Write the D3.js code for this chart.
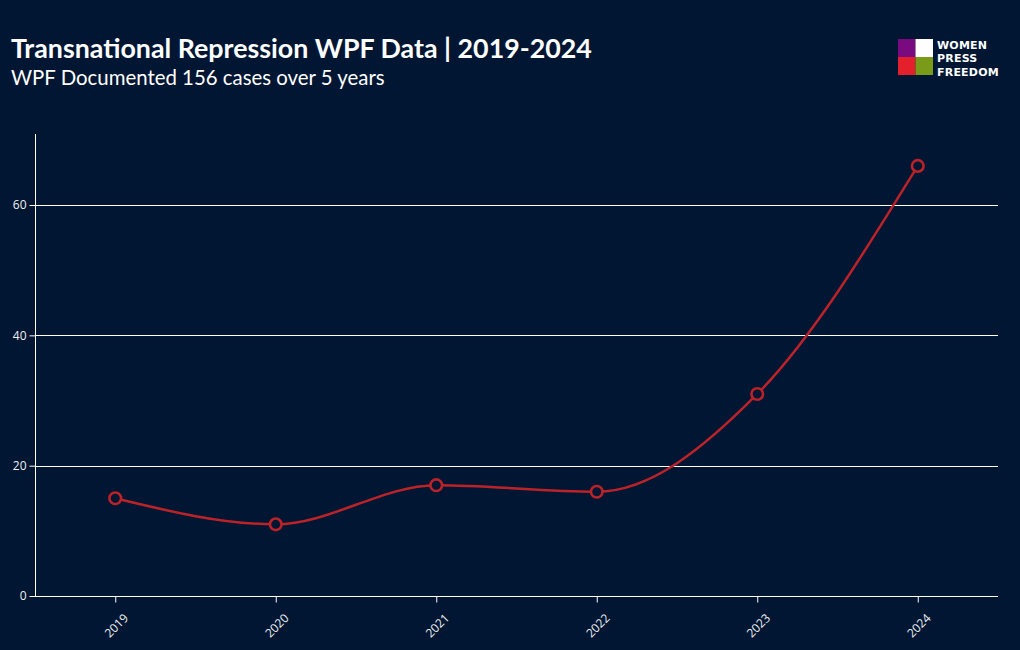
<!DOCTYPE html>
<html>
<head>
<meta charset="utf-8">
<script src="https://cdn.jsdelivr.net/npm/d3@7"></script>
<style>
  html, body { margin: 0; padding: 0; background: #011633; }
  svg { display: block; }
</style>
</head>
<body>
<svg id="chart" width="1020" height="650"></svg>
<script>
const years = ["2019", "2020", "2021", "2022", "2023", "2024"];
const cases = [15, 11, 17, 16, 31, 66];
const yTicks = [0, 20, 40, 60];
const titleText = "Transnational Repression WPF Data | 2019-2024";
const subtitleText = "WPF Documented 156 cases over 5 years";
const logoLines = ["WOMEN", "PRESS", "FREEDOM"];

const bg = "#011633";
const lineColor = "#bb2328";
const svg = d3.select("#chart");
svg.append("rect").attr("width", 1020).attr("height", 650).attr("fill", bg);

const margin = { left: 35, right: 22, top: 134, bottom: 54 };
const W = 1020, H = 650;

const x = d3.scalePoint().domain(years).range([margin.left, W - margin.right]).padding(0.5);
const y = d3.scaleLinear().domain([0, 70.9]).range([H - margin.bottom, margin.top]);

// gridlines
svg.append("g").selectAll("line").data(yTicks.filter(d => d > 0)).join("line")
  .attr("x1", margin.left).attr("x2", W - margin.right)
  .attr("y1", d => Math.round(y(d)) + 0.5).attr("y2", d => Math.round(y(d)) + 0.5)
  .attr("stroke", "#ffffff").attr("stroke-width", 1);

// y axis
const yAxis = svg.append("g").attr("transform", `translate(${margin.left + 0.5},0)`)
  .call(d3.axisLeft(y).tickValues(yTicks).tickSize(6).tickPadding(3).tickFormat(d3.format("d")));
yAxis.select(".domain").attr("stroke", "#ffffff").attr("d", `M0,${y(0)}V${margin.top}`);
yAxis.selectAll(".tick line").attr("stroke", "#ffffff");
yAxis.selectAll(".tick text").attr("fill", "#f0f0f0").attr("font-family", "'Open Sans', sans-serif").attr("font-size", 12);

// x axis
const xAxis = svg.append("g").attr("transform", `translate(0,${Math.round(y(0)) + 0.5})`)
  .call(d3.axisBottom(x).tickSize(6).tickSizeOuter(0));
xAxis.select(".domain").attr("stroke", "#ffffff").attr("d", `M${margin.left},0H${W - margin.right}`);
xAxis.selectAll(".tick line").attr("stroke", "#ffffff");
xAxis.selectAll(".tick text")
  .attr("fill", "#f0f0f0").attr("font-family", "'Open Sans', sans-serif").attr("font-size", 12)
  .attr("text-anchor", "end").attr("dy", "0.35em")
  .attr("transform", "translate(4,13) rotate(-45)");

// line
const data = years.map((yr, i) => ({ yr, v: cases[i] }));
const line = d3.line().x(d => x(d.yr)).y(d => y(d.v)).curve(d3.curveMonotoneX);
svg.append("path").datum(data).attr("d", line)
  .attr("fill", "none").attr("stroke", lineColor).attr("stroke-width", 2.5);

svg.append("g").selectAll("circle").data(data).join("circle")
  .attr("cx", d => x(d.yr)).attr("cy", d => y(d.v)).attr("r", 5.8)
  .attr("fill", bg).attr("stroke", lineColor).attr("stroke-width", 2.6);

// titles
svg.append("text").attr("x", 11).attr("y", 58).text(titleText)
  .attr("fill", "#ffffff").attr("font-family", "Lato, sans-serif").attr("font-weight", "bold").attr("font-size", 26.8);
svg.append("text").attr("x", 11).attr("y", 85).text(subtitleText)
  .attr("fill", "#ffffff").attr("font-family", "Lato, sans-serif").attr("font-size", 20.4);

// logo
const logo = svg.append("g").attr("transform", "translate(898,39)");
const sq = [
  { c: "#7a0a80", dx: 0, dy: 0 },
  { c: "#ffffff", dx: 17.5, dy: 0 },
  { c: "#e3202b", dx: 0, dy: 18 },
  { c: "#7a9a1a", dx: 17.5, dy: 18 }
];
logo.selectAll("rect").data(sq).join("rect")
  .attr("x", d => d.dx).attr("y", d => d.dy).attr("width", 17.5).attr("height", 18).attr("fill", d => d.c);
logo.selectAll("text").data(logoLines).join("text")
  .attr("x", 39).attr("y", (d, i) => 9.5 + i * 13.5).text(d => d)
  .attr("fill", "#ffffff").attr("font-family", "'DejaVu Sans', sans-serif").attr("font-weight", "bold")
  .attr("font-size", 11).attr("letter-spacing", 0.2);
</script>
</body>
</html>
